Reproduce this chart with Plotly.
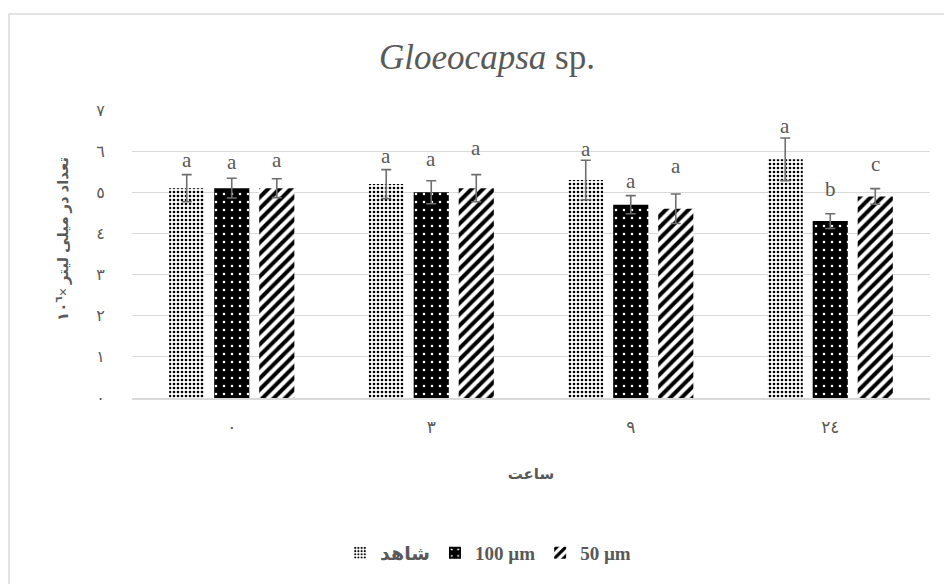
import plotly.graph_objects as go

# ---- data ----
hours = ["٠", "٣", "٩", "٢٤"]
series_names = ["شاهد", "100 µm", "50 µm"]

control = [5.1, 5.2, 5.3, 5.8]
um100 = [5.1, 5.0, 4.7, 4.3]
um50 = [5.1, 5.1, 4.6, 4.9]

control_err = [0.33, 0.35, 0.48, 0.52]
um100_err = [0.24, 0.28, 0.22, 0.18]
um50_err = [0.23, 0.33, 0.36, 0.19]

control_letters = ["a", "a", "a", "a"]
um100_letters = ["a", "a", "a", "b"]
um50_letters = ["a", "a", "a", "c"]

control_letter_y = [5.78, 5.89, 6.06, 6.62]
um100_letter_y = [5.73, 5.80, 5.28, 5.07]
um50_letter_y = [5.78, 6.07, 5.64, 5.68]

y_tick_vals = [0, 1, 2, 3, 4, 5, 6, 7]
y_tick_text = ["٠", "١", "٢", "٣", "٤", "٥", "٦", "٧"]
y_title = "تعداد در میلی لیتر ×١٠<sup>٦</sup>"
x_title = "ساعت"

# ---- styling ----
GRAY = "#595959"
ERR = "#6e6e6e"
FONT = "Times New Roman, Liberation Serif, DejaVu Sans, serif"

values = [control, um100, um50]
errors = [control_err, um100_err, um50_err]
letters = [control_letters, um100_letters, um50_letters]
letter_y = [control_letter_y, um100_letter_y, um50_letter_y]
patterns = [
    dict(shape=".", fgcolor="black", bgcolor="white", size=4, solidity=0.35),
    dict(shape=".", fgcolor="white", bgcolor="black", size=8, solidity=0.08),
    dict(shape="/", fgcolor="black", bgcolor="white", size=8, solidity=0.5),
]

PLOT_W, PLOT_H = 798, 288
ML, MT = 124, 102

fig = go.Figure()
for name, vals, errs, pat in zip(series_names, values, errors, patterns):
    fig.add_trace(go.Bar(
        x=hours, y=vals, name=name,
        marker=dict(color="white", pattern=dict(fillmode="replace", **pat),
                    line=dict(width=0)),
        error_y=dict(type="data", array=errs, visible=True,
                     color=ERR, thickness=1.6, width=5),
    ))

BARGAP = 0.323
slot_px = PLOT_W / len(hours) * (1 - BARGAP) / len(series_names)

annotations = []
for j, (labs, ys) in enumerate(zip(letters, letter_y)):
    for i, (lab, yv) in enumerate(zip(labs, ys)):
        annotations.append(dict(
            x=hours[i], y=yv, xref="x", yref="y", text=lab, showarrow=False,
            xshift=(j - 1) * slot_px, yanchor="middle",
            font=dict(family=FONT, size=21, color=GRAY),
        ))

# y-axis title (placed as a rotated annotation, slightly above the axis middle like the reference)
annotations.append(dict(
    text=y_title, xref="paper", yref="paper",
    x=(54 - ML) / PLOT_W, y=(MT + PLOT_H - 231) / PLOT_H,
    xanchor="center", yanchor="middle", textangle=-90, showarrow=False,
    font=dict(family=FONT, size=15, color=GRAY, weight="bold"),
))

fig.update_layout(
    width=952, height=584,
    margin=dict(l=ML, r=952 - ML - PLOT_W, t=MT, b=584 - MT - PLOT_H),
    paper_bgcolor="white", plot_bgcolor="white",
    barmode="group", bargap=BARGAP, bargroupgap=0.22,
    font=dict(family=FONT, color=GRAY),
    title=dict(text="<i>Gloeocapsa</i> sp.", x=(479 - ML) / PLOT_W, xref="paper",
               xanchor="center", y=0.916, yanchor="middle",
               font=dict(family=FONT, size=35, color=GRAY)),
    showlegend=True,
    legend=dict(orientation="h", x=(480 - ML) / PLOT_W, xanchor="center",
                y=0.067, yref="container", yanchor="middle",
                font=dict(family=FONT, size=19, color=GRAY, weight="bold"),
                itemwidth=30, traceorder="normal"),
    annotations=annotations,
    shapes=[dict(type="rect", xref="paper", yref="paper",
                 x0=(1 - ML) / PLOT_W, x1=(1100 - ML) / PLOT_W,
                 y0=-3.0, y1=(MT + PLOT_H - 6) / PLOT_H,
                 line=dict(color="#d9d9d9", width=1.5), layer="below")],
)

fig.update_xaxes(
    showgrid=False, showline=True, linecolor="#d9d9d9", linewidth=1.5,
    ticks="outside", ticklen=13, tickcolor="rgba(0,0,0,0)",
    tickfont=dict(family=FONT, size=17, color=GRAY),
    title=dict(text=x_title, standoff=32,
               font=dict(family=FONT, size=15, color=GRAY, weight="bold")),
)
fig.update_yaxes(
    range=[0, 7], tickvals=y_tick_vals, ticktext=y_tick_text,
    showgrid=True, gridcolor="#d9d9d9", gridwidth=1, zeroline=False,
    ticks="outside", ticklen=23, tickcolor="rgba(0,0,0,0)",
    tickfont=dict(family=FONT, size=16, color=GRAY),
)

fig.write_html("out.html")
